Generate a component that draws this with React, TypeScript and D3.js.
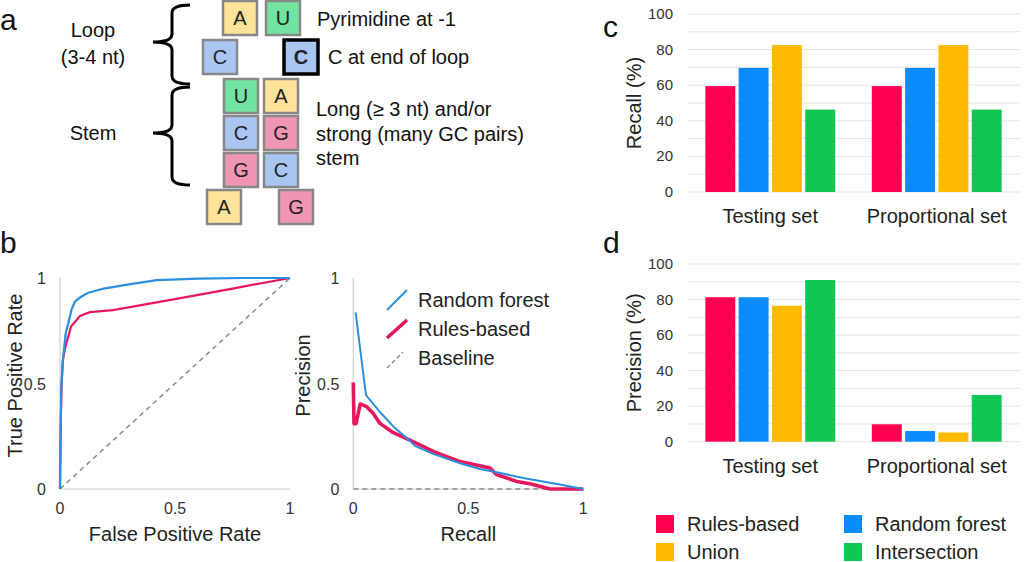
import { line, scaleBand, scaleLinear } from "d3";

const FONT = "'Liberation Sans', Arial, sans-serif";

// panel b data
const rocRandomForest: [number, number][] = [
  [0, 0], [0.002, 0.2], [0.005, 0.45], [0.007, 0.5], [0.014, 0.627], [0.025, 0.74],
  [0.036, 0.785], [0.05, 0.85], [0.065, 0.888], [0.09, 0.91], [0.123, 0.93],
  [0.19, 0.95], [0.3, 0.97], [0.42, 0.99], [0.6, 0.997], [0.8, 1], [1, 1],
];
const rocRulesBased: [number, number][] = [
  [0, 0], [0.003, 0.3], [0.007, 0.5], [0.012, 0.61], [0.022, 0.667], [0.048, 0.77],
  [0.087, 0.82], [0.13, 0.838], [0.23, 0.848], [0.5, 0.9], [0.75, 0.95], [1, 1],
];
const prRandomForest: [number, number][] = [
  [0.01, 0.837], [0.055, 0.445], [0.12, 0.36], [0.18, 0.29], [0.24, 0.235],
  [0.268, 0.204], [0.35, 0.165], [0.464, 0.122], [0.55, 0.095], [0.623, 0.079],
  [0.75, 0.05], [0.88, 0.025], [1, 0],
];
const prRulesBased: [number, number][] = [
  [0, 0.505], [0.003, 0.31], [0.012, 0.31], [0.03, 0.403], [0.058, 0.39],
  [0.085, 0.36], [0.116, 0.311], [0.174, 0.267], [0.246, 0.232], [0.35, 0.177],
  [0.464, 0.13], [0.594, 0.1], [0.623, 0.068], [0.71, 0.036], [0.768, 0.025],
  [0.855, 0], [1, 0],
];
const rateTicks = [0, 0.5, 1];

// panels c and d
const groups = ["Testing set", "Proportional set"];
const methods = ["Rules-based", "Random forest", "Union", "Intersection"];
const methodColors = ["#ff0050", "#0a8cff", "#ffbb00", "#12c655"];
const recallTesting = [59.5, 69.7, 82.6, 46.3];
const recallProportional = [59.5, 69.7, 82.6, 46.3];
const precisionTesting = [81.3, 81.3, 76.5, 91];
const precisionProportional = [9.8, 6, 5.2, 26.3];
const percentTicks = [0, 20, 40, 60, 80, 100];
const percentGrid = [0, 10, 20, 30, 40, 50, 60, 70, 80, 90, 100];

// panel a
const nucleotideFill: Record<string, string> = {
  A: "#ffe39b",
  U: "#72e3a0",
  C: "#a9c5f2",
  G: "#f195b5",
};

const blue = "#2a8fe0";
const red = "#e8175d";

function Brace({ tip, spine, end, y0, yMid, y1 }: { tip: number; spine: number; end: number; y0: number; yMid: number; y1: number }) {
  const r = 8;
  const d = `M${end},${y0} Q${spine},${y0} ${spine},${y0 + r} L${spine},${yMid - r} Q${spine},${yMid} ${tip},${yMid} Q${spine},${yMid} ${spine},${yMid + r} L${spine},${y1 - r} Q${spine},${y1} ${end},${y1}`;
  return <path d={d} fill="none" stroke="#000" strokeWidth={3} />;
}

function NtBox({ letter, x, y, bold = false }: { letter: string; x: number; y: number; bold?: boolean }) {
  const s = 34;
  return (
    <g>
      <rect x={x} y={y} width={s} height={s} fill={nucleotideFill[letter]} stroke={bold ? "#000" : "#888"} strokeWidth={bold ? 3.5 : 2.5} />
      <text x={x + s / 2} y={y + s / 2 + 7} textAnchor="middle" fontSize={20} fontWeight={bold ? "bold" : "normal"} fill="#222">
        {letter}
      </text>
    </g>
  );
}

function PanelA() {
  const rows: { y: number; left: [string, number]; right: [string, number]; bold?: boolean }[] = [
    { y: 1, left: ["A", 223], right: ["U", 266] },
    { y: 40, left: ["C", 203], right: ["C", 284], bold: true },
    { y: 79, left: ["U", 224], right: ["A", 264] },
    { y: 116, left: ["C", 224], right: ["G", 264] },
    { y: 153, left: ["G", 224], right: ["C", 264] },
    { y: 190, left: ["A", 207], right: ["G", 279] },
  ];
  return (
    <g fill="#111">
      <text x={0} y={30} fontSize={30}>a</text>
      <text x={93} y={37} fontSize={20} textAnchor="middle">Loop</text>
      <text x={93} y={64} fontSize={20} textAnchor="middle">(3-4 nt)</text>
      <text x={93} y={140} fontSize={20} textAnchor="middle">Stem</text>
      <Brace tip={153} spine={172} end={190} y0={5} yMid={42} y1={84} />
      <Brace tip={153} spine={172} end={190} y0={87} yMid={133} y1={185} />
      {rows.map((r, i) => (
        <g key={i}>
          <NtBox letter={r.left[0]} x={r.left[1]} y={r.y} />
          <NtBox letter={r.right[0]} x={r.right[1]} y={r.y} bold={r.bold} />
        </g>
      ))}
      <text x={317} y={26} fontSize={20}>Pyrimidine at -1</text>
      <text x={328} y={64} fontSize={20}>C at end of loop</text>
      <text x={316} y={116} fontSize={20}>Long (≥ 3 nt) and/or</text>
      <text x={316} y={141} fontSize={20}>strong (many GC pairs)</text>
      <text x={316} y={165} fontSize={20}>stem</text>
    </g>
  );
}

function CurvePlot({
  left,
  xLabel,
  yLabel,
  yLabelX,
  children,
}: {
  left: number;
  xLabel: string;
  yLabel: string;
  yLabelX: number;
  children: (x: (v: number) => number, y: (v: number) => number) => React.ReactNode;
}) {
  const x = scaleLinear().domain([0, 1]).range([left, left + 230]);
  const y = scaleLinear().domain([0, 1]).range([489, 278]);
  return (
    <g>
      <line x1={x(0)} x2={x(0)} y1={y(0)} y2={y(1)} stroke="#cfcfcf" strokeWidth={1.2} />
      <line x1={x(0)} x2={x(1)} y1={y(0)} y2={y(0)} stroke="#cfcfcf" strokeWidth={1.2} />
      {rateTicks.map((t) => (
        <text key={"y" + t} x={x(0) - 14} y={y(t) + 6} fontSize={16} textAnchor="end" fill="#333">
          {t}
        </text>
      ))}
      {rateTicks.map((t) => (
        <text key={"x" + t} x={x(t)} y={514} fontSize={16} textAnchor="middle" fill="#333">
          {t}
        </text>
      ))}
      <text x={x(0.5)} y={541} fontSize={20} textAnchor="middle" fill="#222">{xLabel}</text>
      <text transform={`translate(${yLabelX},${y(0.5) - 8}) rotate(-90)`} fontSize={20} textAnchor="middle" fill="#222">
        {yLabel}
      </text>
      {children(x, y)}
    </g>
  );
}

function PanelB() {
  return (
    <g>
      <text x={0} y={253} fontSize={30} fill="#111">b</text>
      <CurvePlot left={60} xLabel="False Positive Rate" yLabel="True Positive Rate" yLabelX={22}>
        {(x, y) => {
          const l = line<[number, number]>().x((d) => x(d[0])).y((d) => y(d[1]));
          return (
            <g fill="none">
              <path d={l([[0, 0], [1, 1]]) ?? ""} stroke="#8a8a8a" strokeWidth={1.5} strokeDasharray="5,4" />
              <path d={l(rocRulesBased) ?? ""} stroke={red} strokeWidth={2.2} />
              <path d={l(rocRandomForest) ?? ""} stroke={blue} strokeWidth={2.2} />
            </g>
          );
        }}
      </CurvePlot>
      <CurvePlot left={353.3} xLabel="Recall" yLabel="Precision" yLabelX={310}>
        {(x, y) => {
          const l = line<[number, number]>().x((d) => x(d[0])).y((d) => y(d[1]));
          return (
            <g fill="none">
              <path d={l([[0, 0], [1, 0]]) ?? ""} stroke="#8a8a8a" strokeWidth={1.5} strokeDasharray="5,4" />
              <path d={l(prRulesBased) ?? ""} stroke={red} strokeWidth={3.6} strokeLinejoin="round" />
              <path d={l(prRandomForest) ?? ""} stroke={blue} strokeWidth={2} />
              <line x1={387} y1={310} x2={407} y2={290} stroke={blue} strokeWidth={2} />
              <line x1={387} y1={338} x2={407} y2={320} stroke={red} strokeWidth={3.6} />
              <line x1={387} y1={368} x2={403} y2={352} stroke="#8a8a8a" strokeWidth={1.5} strokeDasharray="4,3" />
              <text x={418} y={307} fontSize={20} fill="#222" stroke="none">Random forest</text>
              <text x={418} y={336} fontSize={20} fill="#222" stroke="none">Rules-based</text>
              <text x={418} y={365} fontSize={20} fill="#222" stroke="none">Baseline</text>
            </g>
          );
        }}
      </CurvePlot>
    </g>
  );
}

function BarPanel({
  label,
  labelY,
  yLabel,
  top,
  bottom,
  series,
}: {
  label: string;
  labelY: number;
  yLabel: string;
  top: number;
  bottom: number;
  series: number[][];
}) {
  const x0 = scaleBand().domain(groups).range([687, 1020]);
  const x1 = scaleBand().domain(methods).range([0, x0.bandwidth()]).paddingInner(0.1).paddingOuter(0.55);
  const y = scaleLinear().domain([0, 100]).range([bottom, top]);
  return (
    <g>
      <text x={603} y={labelY} fontSize={30} fill="#111">{label}</text>
      {percentGrid.map((t) => (
        <line key={t} x1={687} x2={1020} y1={y(t)} y2={y(t)} stroke="#e4e4e4" strokeWidth={1} />
      ))}
      {percentTicks.map((t) => (
        <text key={t} x={673} y={y(t) + 5} fontSize={15} textAnchor="end" fill="#333">{t}</text>
      ))}
      <text transform={`translate(${641},${(top + bottom) / 2}) rotate(-90)`} fontSize={20} textAnchor="middle" fill="#222">
        {yLabel}
      </text>
      {groups.map((g, gi) => (
        <g key={g}>
          {methods.map((m, mi) => (
            <rect
              key={m}
              x={(x0(g) ?? 0) + (x1(m) ?? 0)}
              y={y(series[gi][mi])}
              width={x1.bandwidth()}
              height={y(0) - y(series[gi][mi])}
              fill={methodColors[mi]}
            />
          ))}
          <text x={(x0(g) ?? 0) + x0.bandwidth() / 2} y={bottom + 31} fontSize={20} textAnchor="middle" fill="#222">
            {g}
          </text>
        </g>
      ))}
    </g>
  );
}

function Legend() {
  const cols = [656, 844];
  const rows = [515, 543];
  return (
    <g>
      {methods.map((m, i) => {
        const cx = cols[i % 2];
        const cy = rows[Math.floor(i / 2)];
        return (
          <g key={m}>
            <rect x={cx} y={cy} width={18} height={18} fill={methodColors[i]} />
            <text x={cx + 31} y={cy + 16} fontSize={20} fill="#222">{m}</text>
          </g>
        );
      })}
    </g>
  );
}

export default function App() {
  return (
    <svg
      width={1024}
      height={562}
      style={{ position: "absolute", left: 0, top: 0, background: "#fff" }}
      fontFamily={FONT}
    >
      <rect width={1024} height={562} fill="#fff" />
      <PanelA />
      <PanelB />
      <BarPanel label="c" labelY={37} yLabel="Recall (%)" top={14} bottom={192} series={[recallTesting, recallProportional]} />
      <BarPanel label="d" labelY={253} yLabel="Precision (%)" top={264} bottom={441.7} series={[precisionTesting, precisionProportional]} />
      <Legend />
    </svg>
  );
}
